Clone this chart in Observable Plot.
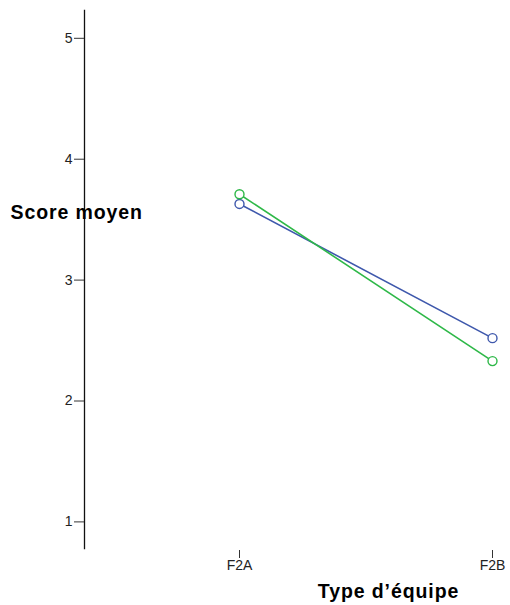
<!DOCTYPE html>
<html>
<head>
<meta charset="utf-8">
<script src="https://cdn.jsdelivr.net/npm/d3@7"></script>
<script src="https://cdn.jsdelivr.net/npm/@observablehq/plot@0.6"></script>
<style>
  body { margin: 0; background: #fff; }
  #chart svg { display: block; }
  .biglabel text { letter-spacing: 0.9px; }
</style>
</head>
<body>
<div id="chart"></div>
<script>
const categories = ["F2A", "F2B"];
const seriesNames = ["Groupe 1", "Groupe 2"];
const blueValues = [3.63, 2.52];
const greenValues = [3.71, 2.33];
const yTicks = [1, 2, 3, 4, 5];
const yLabel = "Score moyen";
const xLabel = "Type d’équipe";

const colors = ["#3e58ac", "#2eb848"];
const data = [
  ...categories.map((c, i) => ({type: c, score: blueValues[i], group: seriesNames[0]})),
  ...categories.map((c, i) => ({type: c, score: greenValues[i], group: seriesNames[1]}))
];

const chart = Plot.plot({
  width: 510,
  height: 605,
  marginLeft: 84,
  marginRight: 18,
  marginTop: 10,
  marginBottom: 57,
  style: {fontFamily: "Liberation Sans, Arial, sans-serif", fontSize: "14px", color: "#222", background: "#fff"},
  x: {type: "point", domain: categories, range: [239, 492], padding: 0},
  y: {domain: [0.78, 5.23]},
  color: {domain: seriesNames, range: colors},
  marks: [
    Plot.frame({anchor: "left", stroke: "#111", strokeWidth: 1.3}),
    Plot.axisY({ticks: yTicks, tickFormat: "d", tickSize: 10, tickPadding: 2, label: null, stroke: "#333", fontSize: 14}),
    Plot.axisX({tickSize: 8, tickPadding: 2, label: null, stroke: "#333", fontSize: 14, dy: 2}),
    Plot.line(data, {x: "type", y: "score", z: "group", stroke: "group", strokeWidth: 1.6}),
    Plot.dot(data, {x: "type", y: "score", stroke: "group", r: 4.5, strokeWidth: 1.4, fill: "white"}),
    Plot.text([yLabel], {frameAnchor: "left", dx: -74, dy: -67, textAnchor: "start", fontSize: 19.5, fontWeight: "bold", fill: "#000", clip: false, className: "biglabel"}),
    Plot.text([xLabel], {frameAnchor: "bottom", dx: 100, dy: 49, textAnchor: "middle", fontSize: 19.5, fontWeight: "bold", fill: "#000", clip: false, className: "biglabel"})
  ]
});
document.getElementById("chart").appendChild(chart);
</script>
</body>
</html>
